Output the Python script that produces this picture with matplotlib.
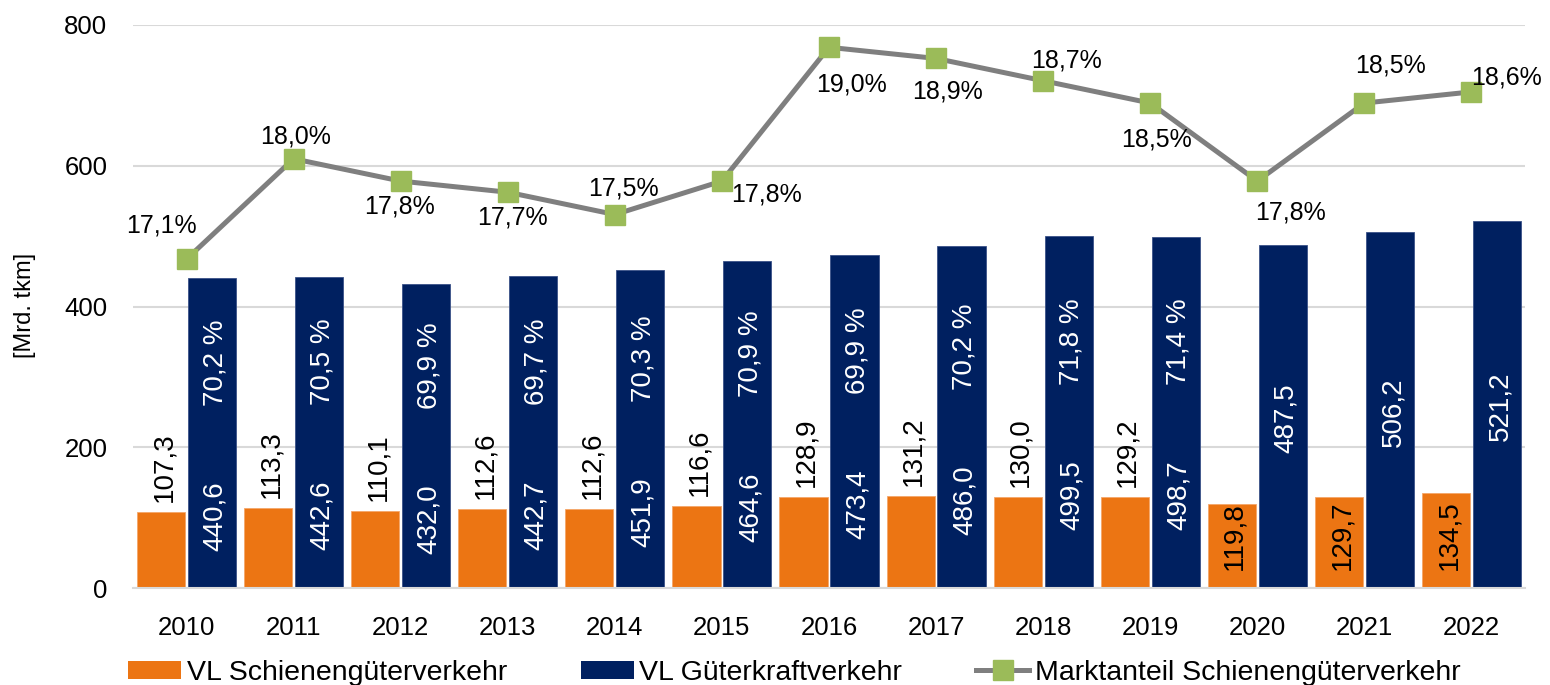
import matplotlib
matplotlib.use("Agg")
import matplotlib.pyplot as plt
from matplotlib.patches import Patch
from matplotlib.lines import Line2D

plt.rcParams['font.family'] = ['Liberation Sans', 'DejaVu Sans']

# ---------------- data ----------------
years = ["2010", "2011", "2012", "2013", "2014", "2015", "2016",
         "2017", "2018", "2019", "2020", "2021", "2022"]
rail = [107.3, 113.3, 110.1, 112.6, 112.6, 116.6, 128.9,
        131.2, 130.0, 129.2, 119.8, 129.7, 134.5]
road = [440.6, 442.6, 432.0, 442.7, 451.9, 464.6, 473.4,
        486.0, 499.5, 498.7, 487.5, 506.2, 521.2]
road_share = ["70,2 %", "70,5 %", "69,9 %", "69,7 %", "70,3 %", "70,9 %", "69,9 %",
              "70,2 %", "71,8 %", "71,4 %", None, None, None]
rail_share = [17.1, 18.0, 17.8, 17.7, 17.5, 17.8, 19.0,
              18.9, 18.7, 18.5, 17.8, 18.5, 18.6]

# label offsets (pixels, y up) for market-share labels
share_offsets = [(-25, 36), (2, 24), (-1, -23), (5, -23), (9, 28), (45, -11),
                 (22, -35), (11, -31), (23, 22), (6, -34), (33, -29), (26, 40), (35, 16)]

ORANGE = '#EC7513'
NAVY = '#002060'
GREEN = '#9BBB59'
GRAY = '#7F7F7F'
GRID = '#D9D9D9'

W, H = 1550, 685
fig = plt.figure(figsize=(W / 100, H / 100), dpi=100)
ax = fig.add_axes([133 / W, 1 - 588 / H, (1525 - 133) / W, (588 - 25) / H])

x = list(range(len(years)))
bw = 0.45
off = 0.238
ax.bar([i - off for i in x], rail, width=bw, color=ORANGE, edgecolor='#F4A66A', linewidth=0.6, zorder=2)
ax.bar([i + off for i in x], road, width=bw, color=NAVY, edgecolor='#3A5288', linewidth=0.6, zorder=2)

ax.set_xlim(-0.5, len(years) - 0.5)
ax.set_ylim(0, 800)
ax.set_yticks([0, 200, 400, 600, 800])
ax.set_xticks(x)
ax.set_xticklabels(years)
ax.yaxis.grid(True, color=GRID, linewidth=1.5, zorder=0)
ax.set_axisbelow(True)
for s in ['top', 'right', 'left']:
    ax.spines[s].set_visible(False)
ax.spines['bottom'].set_color(GRID)
ax.spines['bottom'].set_linewidth(1.5)
ax.tick_params(axis='y', length=0, pad=18.5, labelsize=18.5)
ax.tick_params(axis='x', length=0, pad=20, labelsize=18.5)

fig.text(25 / W, 1 - 305 / H, '[Mrd. tkm]', rotation=90, ha='center', va='center', fontsize=17)

PX = 0.72  # points per pixel
LBL = 20
cap_half = 10 * PX

for i in x:
    xo = i - off
    xr = i + off
    if road_share[i] is not None:
        # rail label outside end
        ax.annotate(f"{rail[i]:.1f}".replace('.', ','), (xo, rail[i]),
                    xytext=(cap_half, 10 * PX), textcoords='offset points',
                    rotation=90, rotation_mode='anchor', ha='left', va='baseline',
                    fontsize=LBL, color='black', zorder=5)
        # road value + share
        ax.annotate(f"{road[i]:.1f}".replace('.', ','), (xr, road[i] / 2),
                    xytext=(cap_half, -83 * PX), textcoords='offset points',
                    rotation=90, rotation_mode='anchor', ha='center', va='baseline',
                    fontsize=LBL, color='white', zorder=5)
        ax.annotate(road_share[i], (xr, road[i] / 2),
                    xytext=(cap_half, 70.5 * PX), textcoords='offset points',
                    rotation=90, rotation_mode='anchor', ha='center', va='baseline',
                    fontsize=LBL, color='white', zorder=5)
    else:
        ax.annotate(f"{rail[i]:.1f}".replace('.', ','), (xo, 0),
                    xytext=(cap_half, 18 * PX), textcoords='offset points',
                    rotation=90, rotation_mode='anchor', ha='left', va='baseline',
                    fontsize=LBL, color='black', zorder=5)
        ax.annotate(f"{road[i]:.1f}".replace('.', ','), (xr, road[i] / 2),
                    xytext=(cap_half, -2 * PX), textcoords='offset points',
                    rotation=90, rotation_mode='anchor', ha='center', va='baseline',
                    fontsize=LBL, color='white', zorder=5)

ax2 = ax.twinx()
ax2.set_ylim(14.15, 19.2)
ax2.axis('off')
ax2.plot(x, rail_share, color=GRAY, linewidth=3.6, marker='s', markersize=14,
         markerfacecolor=GREEN, markeredgecolor=GREEN, zorder=3)
for i in x:
    dx, dy = share_offsets[i]
    ax2.annotate(f"{rail_share[i]:.1f}%".replace('.', ','), (i, rail_share[i]),
                 xytext=(dx * PX, (dy - 9) * PX), textcoords='offset points',
                 ha='center', va='baseline', fontsize=18, color='black')

handles = [Patch(facecolor=ORANGE, edgecolor='none'),
           Patch(facecolor=NAVY, edgecolor='none'),
           Line2D([0], [0], color=GRAY, linewidth=3.6, marker='s', markersize=14,
                  markerfacecolor=GREEN, markeredgecolor=GREEN)]
labels = ["VL Schienengüterverkehr", "VL Güterkraftverkehr", "Marktanteil Schienengüterverkehr"]
fig.legend(handles, labels, loc='center', bbox_to_anchor=(0.5125, 1 - 673 / H), ncol=3,
           frameon=False, fontsize=20.5, handlelength=1.85, handleheight=0.6,
           handletextpad=0.2, columnspacing=2.6, borderpad=0, borderaxespad=0)

fig.savefig('out.png', dpi=100)
